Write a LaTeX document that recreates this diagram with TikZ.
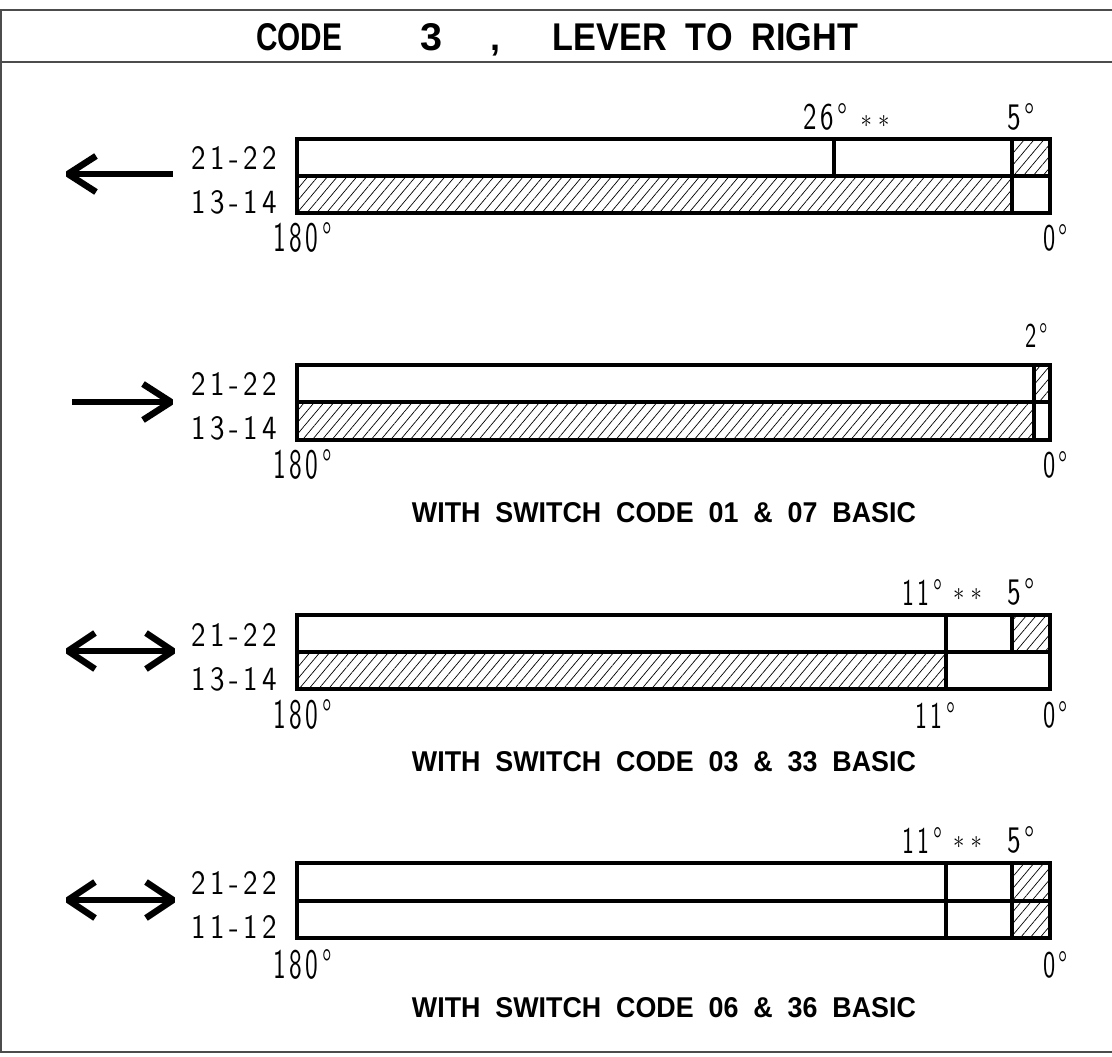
\documentclass[tikz,border=0pt]{standalone}
\usepackage{fontspec}
\usepackage{graphicx}
\usetikzlibrary{patterns.meta}
\newfontfamily\boldf{Liberation Sans}
\newfontfamily\thinf[LetterSpace=15]{lmsans10-regular.otf}
\newcommand\fitt[3]{\resizebox{#1pt}{#2pt}{#3}}
\newcommand\bt[3]{\fitt{#1}{#2}{\boldf\bfseries #3}}
\newcommand\thintxt[3]{\fitt{#1}{#2}{\thinf #3}}
\newcommand\starpair{\fitt{29}{12}{$\ast\;\ast$}}
\tikzset{
  txt/.style={inner sep=0pt, outer sep=0pt},
  frameline/.style={draw=black!70, line width=1.5pt},
  barline/.style={draw=black, line width=3.8pt},
  hatch/.style={pattern={Lines[angle=50,distance=7.5pt,line width=0.7pt]}},
  arrowline/.style={draw=black, line width=6.5pt, line join=bevel}
}
\begin{document}
\begin{tikzpicture}[x=1pt,y=-1pt]
\useasboundingbox (0,0) rectangle (1112,1057);
% frame
\draw[frameline] (0,10) -- (1112,10);
\draw[frameline] (0,62) -- (1112,62);
\draw[frameline] (0,1052) -- (1112,1052);
\draw[frameline] (1,10) -- (1,1052);
% title
\node[txt] (tcode) at (299,37.5) {\bt{86}{27}{CODE}};
\node[txt] (tthree) at (431,37.5) {\bt{22}{27}{3}};
\node[txt, anchor=base] (tcomma) at (495,51) {\fontsize{36}{36}\boldf\bfseries ,};
\node[txt] (tlever) at (705.5,37.5) {\bt{305}{27}{LEVER\ \ TO\ \ RIGHT}};

% ---------- bar 1 ----------
\fill[hatch] (1012,139) rectangle (1050,176);
\fill[hatch] (297,176) rectangle (1012,213);
\draw[barline] (297,139) rectangle (1050,213);
\draw[barline] (297,176) -- (1050,176);
\draw[barline] (834,139) -- (834,176);
\draw[barline] (1012,139) -- (1012,213);
\node[txt] (a1) at (234.5,158) {\thintxt{85}{23}{21-22}};
\node[txt] (b1) at (234.5,202) {\thintxt{85}{23}{13-14}};
\node[txt] (c1) at (302.5,237) {\thintxt{59}{29}{180°}};
\node[txt] (d1) at (1055.5,238) {\thintxt{25}{26}{0°}};
\node[txt] (e1) at (825.5,117) {\thintxt{45}{26}{26°}};
\node[txt] (f1) at (875,121) {\starpair};
\node[txt] (g1) at (1021,117) {\thintxt{28}{26}{5°}};
\draw[arrowline] (68,174) -- (173,174);
\draw[arrowline] (96,156) -- (68,174) -- (96,192);

% ---------- bar 2 ----------
\fill[hatch] (1034,365) rectangle (1050,402);
\fill[hatch] (297,402) rectangle (1034,440);
\draw[barline] (297,365) rectangle (1050,440);
\draw[barline] (297,402) -- (1050,402);
\draw[barline] (1034,365) -- (1034,440);
\node[txt] (a2) at (234.5,384) {\thintxt{85}{23}{21-22}};
\node[txt] (b2) at (234.5,428) {\thintxt{85}{23}{13-14}};
\node[txt] (c2) at (302.5,464) {\thintxt{59}{29}{180°}};
\node[txt] (d2) at (1055.5,465) {\thintxt{25}{26}{0°}};
\node[txt] (g2) at (1036.5,335) {\thintxt{23}{24}{2°}};
\node[txt] (s2) at (664,513) {\bt{504}{20}{WITH\ \ SWITCH\ \ CODE\ \ 01\ \ \&\ \ 07\ \ BASIC}};
\draw[arrowline] (72,402) -- (171,402);
\draw[arrowline] (143,384) -- (171,402) -- (143,420);

% ---------- bar 3 ----------
\fill[hatch] (1012,615) rectangle (1050,652);
\fill[hatch] (297,652) rectangle (946,689);
\draw[barline] (297,615) rectangle (1050,689);
\draw[barline] (297,652) -- (1050,652);
\draw[barline] (946,615) -- (946,689);
\draw[barline] (1012,615) -- (1012,652);
\node[txt] (a3) at (234.5,635) {\thintxt{85}{23}{21-22}};
\node[txt] (b3) at (234.5,679) {\thintxt{85}{23}{13-14}};
\node[txt] (c3) at (302.5,714) {\thintxt{59}{29}{180°}};
\node[txt] (h3) at (935,715) {\thintxt{40}{26}{11°}};
\node[txt] (d3) at (1055.5,715) {\thintxt{25}{26}{0°}};
\node[txt] (e3) at (922,592) {\thintxt{40}{26}{11°}};
\node[txt] (f3) at (967.5,594) {\starpair};
\node[txt] (g3) at (1021,592) {\thintxt{28}{26}{5°}};
\node[txt] (s3) at (664,762) {\bt{504}{20}{WITH\ \ SWITCH\ \ CODE\ \ 03\ \ \&\ \ 33\ \ BASIC}};
\draw[arrowline] (68,651) -- (173,651);
\draw[arrowline] (95,633) -- (68,651) -- (95,669);
\draw[arrowline] (146,633) -- (173,651) -- (146,669);

% ---------- bar 4 ----------
\fill[hatch] (1012,863) rectangle (1050,938);
\draw[barline] (297,863) rectangle (1050,938);
\draw[barline] (297,901) -- (1050,901);
\draw[barline] (946,863) -- (946,938);
\draw[barline] (1012,863) -- (1012,938);
\node[txt] (a4) at (234.5,883) {\thintxt{85}{23}{21-22}};
\node[txt] (b4) at (234.5,927) {\thintxt{85}{23}{11-12}};
\node[txt] (c4) at (302.5,964) {\thintxt{59}{29}{180°}};
\node[txt] (d4) at (1055.5,965) {\thintxt{25}{26}{0°}};
\node[txt] (e4) at (922,840) {\thintxt{40}{26}{11°}};
\node[txt] (f4) at (967.5,842) {\starpair};
\node[txt] (g4) at (1021,840) {\thintxt{28}{26}{5°}};
\node[txt] (s4) at (664,1008) {\bt{504}{20}{WITH\ \ SWITCH\ \ CODE\ \ 06\ \ \&\ \ 36\ \ BASIC}};
\draw[arrowline] (68,900) -- (173,900);
\draw[arrowline] (95,882) -- (68,900) -- (95,918);
\draw[arrowline] (146,882) -- (173,900) -- (146,918);
\end{tikzpicture}
\end{document}
